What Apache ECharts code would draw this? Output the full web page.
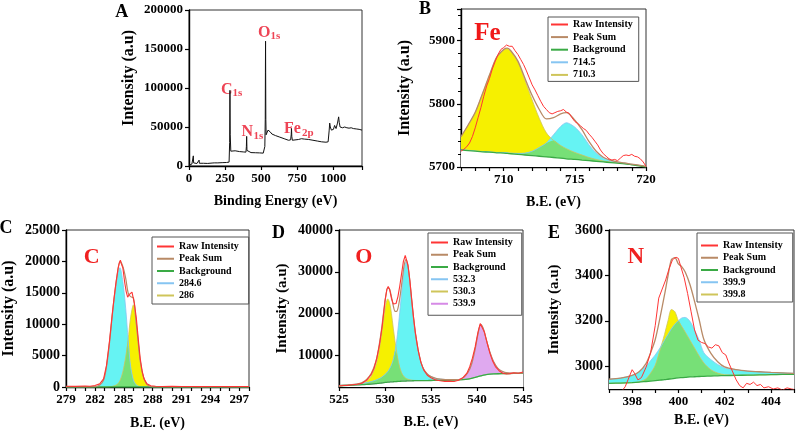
<!DOCTYPE html>
<html>
<head>
<meta charset="utf-8">
<script src="https://cdn.jsdelivr.net/npm/echarts@6/dist/echarts.min.js"></script>
<style>
html,body{margin:0;padding:0;background:#fff}
#chart{width:797px;height:431px}
</style>
</head>
<body>
<div id="chart"></div>
<script>
// A: survey spectrum
const surveyX = [0,10,20,28,30,32,40,55,65,70,72,80,100,130,160,175,180,185,200,230,260,278,282,284,286,290,295,300,320,350,380,395,398,400,402,405,430,460,490,515,522,526,529,530,531,533,535,540,548,555,562,575,600,630,660,690,705,709,711,713,717,730,760,780,800,830,860,890,920,950,965,972,976,980,988,995,1002,1010,1020,1030,1035,1038,1042,1048,1055,1065,1080,1095,1110,1125,1140,1160,1180,1200];
const surveyY = [1000,2000,2500,3000,13000,4000,3000,3200,3000,7500,3500,3200,3500,3300,3800,4000,6000,4200,4000,4300,4500,5000,30000,97000,40000,19000,21000,20000,19500,18500,18000,17800,25000,38000,20000,17500,17200,17000,16800,16500,17000,25000,60000,120000,160000,60000,40000,42000,46000,47000,44000,41000,39000,37000,35000,33000,33500,40000,48000,38000,33000,32000,34000,35000,34500,34000,33000,32000,31000,30500,31000,45000,55000,50000,46000,44000,47000,52000,48000,55000,60000,63000,56000,50000,52000,49000,50000,49000,48500,49000,48000,47500,47000,46000];

// B: Fe
const feX    = [707,707.5,708,708.5,709,709.5,710,710.25,710.5,711,711.5,712,712.5,713,713.5,714,714.4,715,715.5,716,716.5,717,717.5,718,718.5,719,719.5,720];
const feBg   = [5727,5726,5725,5724,5723.5,5722.5,5722,5721.5,5721,5720,5719,5718,5717,5716,5715,5714,5713,5712,5711,5710,5709,5708,5707,5706,5705,5703.5,5702,5700];
const fe7103 = [5748,5766,5786,5815,5845,5873,5885,5887,5883,5866,5837,5806,5777,5754,5742,5734,5729,5723,5719,5715,5712,5709.5,5708,5706.5,5705.5,5704,5702.5,5700.5];
const fe7145 = [5727.5,5726.5,5725.5,5724.5,5724,5723,5723,5722.5,5722,5721.5,5722,5725,5731,5738,5751,5764,5770,5763,5751,5735,5722,5714,5710,5707.5,5706,5704,5702.5,5700.5];
const feSum  = [5748,5766.5,5786.5,5815.5,5845.5,5873.5,5886,5888,5884,5867.5,5840,5813,5791,5776,5778,5784,5786,5774,5759,5740,5725,5715.5,5711,5708,5706.5,5704.5,5703,5701];
const feRawX = [707,707.2,707.4,707.6,707.8,708,708.2,708.4,708.6,708.8,709,709.2,709.4,709.6,709.8,710,710.2,710.4,710.6,710.8,711,711.2,711.4,711.6,711.8,712,712.2,712.4,712.6,712.8,713,713.2,713.4,713.6,713.8,714,714.2,714.4,714.6,714.8,715,715.2,715.4,715.6,715.8,716,716.2,716.4,716.6,716.8,717,717.2,717.4,717.6,717.8,718,718.2,718.4,718.6,718.8,719,719.2,719.4,719.6,719.8,720];
const feRaw  = [5725,5728,5732,5738,5748,5762,5778,5794,5812,5828,5840,5855,5867,5878,5886,5889,5893,5891,5891,5884,5878,5870,5862,5852,5841,5830,5822,5813,5804,5796,5791,5786,5784,5786,5788,5789,5791,5787,5785,5778,5772,5769,5765,5761,5758,5752,5747,5741,5735,5727,5721,5717,5713,5711,5712,5710,5714,5718,5719,5718,5720,5717,5716,5713,5708,5701];

// C: carbon
const cX    = [279,280,281,282,282.5,282.9,283.2,283.5,283.75,284,284.3,284.6,284.9,285.2,285.45,285.7,286,286.25,286.5,286.7,287,287.4,287.8,288.5,290,292,294,296,298];
const cBg   = [0,0,0,0,0,0,0,0,0,0,0,0,0,0,0,0,0,0,0,0,0,0,0,0,0,0,0,0,0];
const c2846 = [0,0,10,50,300,1100,3200,6800,10500,14000,17200,19000,16800,12500,7500,3400,1100,400,150,60,20,5,0,0,0,0,0,0,0];
const c286  = [0,0,0,0,0,0,0,20,80,180,400,1000,2400,4800,7500,11000,13100,10500,7000,4200,1800,400,80,0,0,0,0,0,0];
const cSum  = [0,0,10,50,300,1100,3200,6820,10580,14180,17600,20000,19200,17300,15000,14400,14200,10900,7150,4260,1820,405,80,0,0,0,0,0,0];
const cRawX = [279,280,281,281.5,282,282.5,282.9,283.2,283.5,283.8,284,284.2,284.4,284.55,284.65,284.75,284.9,285.1,285.25,285.4,285.55,285.7,285.85,285.95,286.1,286.3,286.5,286.7,286.9,287.1,287.4,287.8,288.3,289,290,291,292,293,294,295,296,297,298];
const cRaw  = [120,100,150,130,250,500,1300,3400,7100,11600,14300,16800,18800,19800,20200,19600,19000,16600,15200,14300,14700,14500,15100,14800,13300,11000,7700,4600,2600,1300,500,200,120,80,100,70,90,60,80,70,60,80,70];

// D: oxygen
const oX    = [525,526,527,527.5,528,528.5,529,529.3,529.6,529.9,530.1,530.3,530.5,530.7,530.9,531.1,531.3,531.5,531.7,531.9,532.1,532.3,532.5,532.7,532.9,533.1,533.3,533.6,533.9,534.2,534.6,535,535.5,536,537,538,538.5,539,539.4,539.8,540.1,540.4,540.7,541,541.4,541.8,542.3,543,544,545];
const oBg   = [2700,2800,2900,2960,3020,3100,3200,3280,3360,3450,3500,3550,3590,3630,3660,3690,3720,3750,3780,3800,3820,3840,3860,3880,3890,3900,3910,3920,3930,3940,3950,3960,3970,3990,4040,4120,4180,4300,4480,4720,4900,5060,5230,5370,5470,5530,5570,5600,5640,5680];
const o5323 = [2750,2900,3100,3250,3450,3700,4050,4350,4700,5200,5600,6100,6800,7700,9000,11000,14000,18000,22500,27000,30800,32300,31000,27500,23000,18800,15200,11200,8400,6700,5500,4900,4500,4300,4150,4150,4190,4300,4480,4720,4900,5060,5230,5370,5470,5530,5570,5600,5640,5680];
const o5303 = [2700,2810,2940,3150,3800,5000,7600,10500,14500,19500,22300,23500,22600,20000,16500,13200,10300,8000,6400,5400,4800,4450,4250,4120,4040,3990,3970,3955,3950,3950,3955,3960,3970,3990,4040,4120,4180,4300,4480,4720,4900,5060,5230,5370,5470,5530,5570,5600,5640,5680];
const o5399 = [2700,2800,2900,2960,3020,3100,3200,3280,3360,3450,3500,3550,3590,3630,3660,3690,3720,3750,3780,3800,3820,3840,3860,3880,3890,3900,3910,3920,3930,3940,3950,3960,3970,3990,4040,4150,4600,5800,7800,11500,15000,17400,16300,13800,10800,8500,6800,5900,5700,5690];
const oSum  = [2750,2910,3140,3440,4230,5600,8450,11570,15840,21250,24400,26050,25810,24070,21840,20510,20580,22250,25120,28600,31780,32910,31390,27740,23150,18890,15260,11235,8420,6710,5505,4900,4500,4300,4150,4150,4610,5800,7800,11500,15000,17400,16300,13800,10800,8500,6800,5900,5700,5690];
const oRawX = [525,525.5,526,526.5,527,527.5,528,528.5,528.8,529.1,529.4,529.7,530,530.2,530.35,530.5,530.7,530.9,531.05,531.2,531.4,531.6,531.8,532,532.2,532.35,532.5,532.7,532.9,533.1,533.3,533.6,533.9,534.2,534.6,535,535.5,536,536.5,537,537.5,538,538.5,538.9,539.2,539.5,539.8,540.1,540.35,540.55,540.8,541.1,541.4,541.7,542,542.4,542.8,543.2,543.6,544,544.5,545];
const oRaw  = [2650,2750,2800,2950,3050,3300,4000,5400,6800,9200,12500,17000,23000,25800,26500,25800,23600,22300,21900,22400,24000,26500,29500,32500,33900,33500,31500,28000,23500,19200,15500,11300,8300,6500,5200,4600,4100,3900,3750,3800,3700,4000,4700,5700,7200,9300,12000,15500,17600,17300,15600,13000,10500,8600,7300,6300,5700,5500,5600,5800,5700,6000];

// E: nitrogen
const nX    = [397,397.5,398,398.3,398.6,398.8,399,399.2,399.4,399.55,399.7,399.85,400,400.15,400.3,400.5,400.7,400.9,401.1,401.4,401.7,402,402.5,403,403.5,404,404.5,405];
const nBg   = [2925,2926,2928,2930,2933,2935,2937,2939,2941,2943,2945,2947,2949,2950,2951,2953,2954,2955,2956,2957,2958,2959,2960,2961,2962,2963,2964,2965];
const n3999 = [2943,2948,2960,2975,3000,3025,3050,3080,3115,3140,3165,3185,3200,3213,3215,3198,3160,3115,3060,3030,3008,2993,2984,2979,2976,2973,2971,2969];
const n3998 = [2925,2926,2928,2931,2945,2970,3005,3070,3140,3200,3250,3240,3200,3175,3150,3115,3080,3045,3015,2985,2970,2963,2961,2961,2962,2963,2964,2965];
const nSum  = [2943,2948,2960,2976,3012,3060,3118,3211,3314,3397,3470,3478,3451,3438,3414,3360,3286,3205,3119,3058,3020,2997,2985,2979,2976,2973,2971,2969];
const nRawX = [397.4,397.7,397.9,398,398.1,398.25,398.4,398.6,398.8,399,399.15,399.3,399.45,399.6,399.75,399.9,400,400.1,400.25,400.4,400.55,400.7,400.85,401,401.15,401.3,401.45,401.6,401.75,401.9,402.05,402.2,402.35,402.5,402.65,402.8,402.95,403.1,403.25,403.4,403.55,403.7,403.9,404.1,404.3,404.5,404.7,404.9,405];
const nRaw  = [2870,2910,2960,2985,2970,2940,2950,2995,3060,3180,3300,3340,3380,3430,3470,3480,3475,3440,3390,3320,3240,3160,3115,3105,3100,3085,3080,3095,3090,3060,3050,3010,2975,2940,2915,2905,2925,2920,2930,2915,2920,2905,2910,2900,2905,2895,2905,2900,2898];

const FONT = "'Liberation Serif','Times New Roman',serif";
const RAW = '#ff3535', SUM = '#b88a66', BGC = '#3aaa45';
const CYAN_L = '#86c5f2', YEL_L = '#cfc55a', MAG_L = '#d68ae6';
const YEL_F = '#f6f000', CYAN_F = '#66f3f3', GRN_F = '#77e077', MAG_F = '#dfa9ef';

function zip(xs, ys) { return xs.map((x, i) => [x, ys[i]]); }
function lowest(a, b) { return a.map((v, i) => Math.min(v, b[i])); }

function area(name, gi, xs, ys, fill, line) {
    return {
        name: name, type: 'line', xAxisIndex: gi, yAxisIndex: gi,
        data: zip(xs, ys), showSymbol: false, smooth: 0.3, silent: true,
        itemStyle: { color: line || fill },
        lineStyle: { color: line || fill, width: line ? 0.8 : 0 },
        areaStyle: { color: fill, opacity: 1, origin: 'start' }
    };
}
function curve(name, gi, xs, ys, color, width, smooth) {
    return {
        name: name, type: 'line', xAxisIndex: gi, yAxisIndex: gi,
        data: zip(xs, ys), showSymbol: false, smooth: smooth, silent: true,
        itemStyle: { color: color }, lineStyle: { color: color, width: width }
    };
}

const axisLine = { show: true, lineStyle: { color: '#000', width: 1.4 } };
const axisTick = { show: true, length: 4, lineStyle: { color: '#000', width: 1.2 } };
function labelStyle(fmt, size) {
    return { fontFamily: FONT, fontWeight: 'bold', fontSize: size || 13, color: '#000', margin: 6,
             formatter: fmt || (v => String(v)) };
}
function nameStyle(size, pad) {
    return { fontFamily: FONT, fontWeight: 'bold', fontSize: size, color: '#000', padding: pad || 0 };
}
function xAx(gi, min, max, interval, gap, fmt, size) {
    return {
        type: 'value', gridIndex: gi, min: min, max: max, interval: interval,
        name: gi === 0 ? 'Binding Energy (eV)' : 'B.E. (eV)', nameLocation: 'middle', nameGap: gap,
        nameTextStyle: nameStyle(14), axisLine: axisLine, axisTick: axisTick,
        axisLabel: labelStyle(fmt, size), splitLine: { show: false }
    };
}
function yAx(gi, min, max, interval, gap, size, pad, lsize) {
    return {
        type: 'value', gridIndex: gi, min: min, max: max, interval: interval,
        name: 'Intensity (a.u)', nameLocation: 'middle', nameGap: gap,
        nameTextStyle: nameStyle(size, pad), axisLine: axisLine, axisTick: axisTick,
        axisLabel: labelStyle(null, lsize), splitLine: { show: false }
    };
}

let xAxes = [
    xAx(0, 0, 1200, 250, 28, v => (v <= 1000 ? String(v) : '')),
    xAx(1, 707, 720, 1, 28, v => (v % 5 === 0 ? String(v) : '')),
    xAx(2, 279, 298, 1, 29, v => ((v - 279) % 3 === 0 ? String(v) : ''), 13),
    xAx(3, 525, 545, 5, 28),
    xAx(4, 397, 405, 1, 24, v => (v % 2 === 0 ? String(v) : ''), 13)
];
let yAxes = [
    yAx(0, 0, 200000, 50000, 52, 16, [0, 0, 0, 20], 13),
    yAx(1, 5700, 5950, 100, 48, 16, 0, 13),
    yAx(2, 0, 25000, 5000, 49, 16, 0, 14),
    yAx(3, 2400, 40000, 10000, 49, 15, 0, 14),
    yAx(4, 2900, 3600, 100, 47, 15, 0, 14)
];
yAxes[1].minorTick = { show: true, splitNumber: 5, length: 3, lineStyle: { color: '#000', width: 1 } };
yAxes[1].axisLabel.formatter = v => (v % 100 === 0 && v < 5950 ? String(v) : '');
yAxes[3].axisLabel.customValues = [10000, 20000, 30000, 40000];
yAxes[3].axisTick = Object.assign({}, axisTick, { customValues: [10000, 20000, 30000, 40000] });
yAxes[4].axisLabel.customValues = [3000, 3200, 3400, 3600];
yAxes[4].axisTick = Object.assign({}, axisTick, { customValues: [3000, 3200, 3400, 3600] });

let series = [
    curve('survey', 0, surveyX, surveyY, '#111', 1, false),

    area('710.3', 1, feX, fe7103, YEL_F, YEL_L),
    area('714.5', 1, feX, fe7145, CYAN_F, CYAN_L),
    area('ovlB', 1, feX, lowest(fe7103, fe7145), GRN_F),
    area('maskB', 1, feX, feBg, '#fff'),
    curve('Background', 1, feX, feBg, BGC, 1.3, 0.3),
    curve('Peak Sum', 1, feX, feSum, SUM, 1.3, 0.3),
    curve('Raw Intensity', 1, feRawX, feRaw, RAW, 1, false),

    area('286', 2, cX, c286, YEL_F, YEL_L),
    area('284.6', 2, cX, c2846, CYAN_F, CYAN_L),
    area('ovlC', 2, cX, lowest(c286, c2846), GRN_F),
    curve('Background', 2, cX, cBg, BGC, 1.3, false),
    curve('Peak Sum', 2, cX, cSum, SUM, 1.2, 0.3),
    curve('Raw Intensity', 2, cRawX, cRaw, RAW, 1.1, false),

    area('530.3', 3, oX, o5303, YEL_F, YEL_L),
    area('532.3', 3, oX, o5323, CYAN_F, CYAN_L),
    area('539.9', 3, oX, o5399, MAG_F, MAG_L),
    area('ovlD', 3, oX, lowest(o5303, o5323), GRN_F),
    area('maskD', 3, oX, oBg, '#fff'),
    curve('Background', 3, oX, oBg, BGC, 1.3, 0.3),
    curve('Peak Sum', 3, oX, oSum, SUM, 1.2, 0.3),
    curve('Raw Intensity', 3, oRawX, oRaw, RAW, 1.1, false),

    area('399.8', 4, nX, n3998, YEL_F, YEL_L),
    area('399.9', 4, nX, n3999, CYAN_F, CYAN_L),
    area('ovlE', 4, nX, lowest(n3998, n3999), GRN_F),
    area('maskE', 4, nX, nBg, '#fff'),
    curve('Background', 4, nX, nBg, BGC, 1.3, 0.3),
    curve('Peak Sum', 4, nX, nSum, SUM, 1.3, 0.3),
    curve('Raw Intensity', 4, nRawX, nRaw, RAW, 1, false)
];

const legendColors = {
    'Raw Intensity': RAW, 'Peak Sum': SUM, 'Background': BGC,
    '714.5': CYAN_L, '710.3': YEL_L, '284.6': CYAN_L, '286': YEL_L,
    '532.3': CYAN_L, '530.3': YEL_L, '539.9': MAG_L, '399.9': CYAN_L, '399.8': YEL_L
};
function legend(names, left, top, padding, gap) {
    return {
        orient: 'vertical', left: left, top: top, padding: padding, itemGap: gap,
        itemWidth: 17, itemHeight: 2, icon: 'rect', selectedMode: false,
        borderColor: '#555', borderWidth: 1,
        data: names.map(n => ({ name: n, itemStyle: { color: legendColors[n] } })),
        textStyle: { fontFamily: FONT, fontWeight: 'bold', fontSize: 10, lineHeight: 11, color: '#000' }
    };
}

function txt(x, y, s, size, color, align, valign) {
    return {
        type: 'text', x: x, y: y, silent: true,
        style: { text: s, font: 'bold ' + size + 'px ' + FONT, fill: color,
                 textAlign: align || 'left', textVerticalAlign: valign || 'bottom' }
    };
}
const PINK = '#ee4455';

let myChart = echarts.init(document.getElementById('chart'));
let option = {
    animation: false,
    backgroundColor: '#fff',
    grid: [
        { left: 189, top: 10, width: 173, height: 156 },
        { left: 461, top: 9, width: 185, height: 158 },
        { left: 66, top: 230, width: 183, height: 157 },
        { left: 339, top: 230, width: 184, height: 157 },
        { left: 609, top: 230, width: 187, height: 159 }
    ].map(g => Object.assign({ show: true, borderColor: '#333', borderWidth: 1 }, g)),
    xAxis: xAxes,
    yAxis: yAxes,
    legend: [
        legend(['Raw Intensity', 'Peak Sum', 'Background', '714.5', '710.3'], 548, 17, [2, 6, 1, 3], 1.6),
        legend(['Raw Intensity', 'Peak Sum', 'Background', '284.6', '286'], 152, 237, [4, 10, 3, 5], 1.25),
        legend(['Raw Intensity', 'Peak Sum', 'Background', '532.3', '530.3', '539.9'], 428, 233, [4, 9, 6, 3], 1.25),
        legend(['Raw Intensity', 'Peak Sum', 'Background', '399.9', '399.8'], 697, 233, [7, 10, 2, 4], 1.25)
    ],
    graphic: [
        txt(121.7, 12.5, 'A', 18, '#000', 'center', 'middle'),
        txt(425, 9, 'B', 18, '#000', 'center', 'middle'),
        txt(6, 228, 'C', 18, '#000', 'center', 'middle'),
        txt(278.5, 233.5, 'D', 18, '#000', 'center', 'middle'),
        txt(554, 233.5, 'E', 18, '#000', 'center', 'middle'),
        txt(487.5, 34, 'Fe', 25, '#f01818', 'center', 'middle'),
        txt(91.7, 257.5, 'C', 22, '#f02020', 'center', 'middle'),
        txt(363.7, 257.5, 'O', 22, '#f02020', 'center', 'middle'),
        txt(635.8, 256.7, 'N', 23, '#f02020', 'center', 'middle'),
        txt(258, 41.2, 'O', 16, PINK), txt(270.5, 41.7, '1s', 11, PINK),
        txt(221, 97.5, 'C', 16, PINK), txt(232.5, 98.4, '1s', 11, PINK),
        txt(241.5, 140.2, 'N', 16, PINK), txt(253.5, 141.4, '1s', 11, PINK),
        txt(284, 136.8, 'Fe', 16, PINK), txt(302, 139, '2p', 11, PINK)
    ],
    series: series
};
myChart.setOption(option);
</script>
</body>
</html>
